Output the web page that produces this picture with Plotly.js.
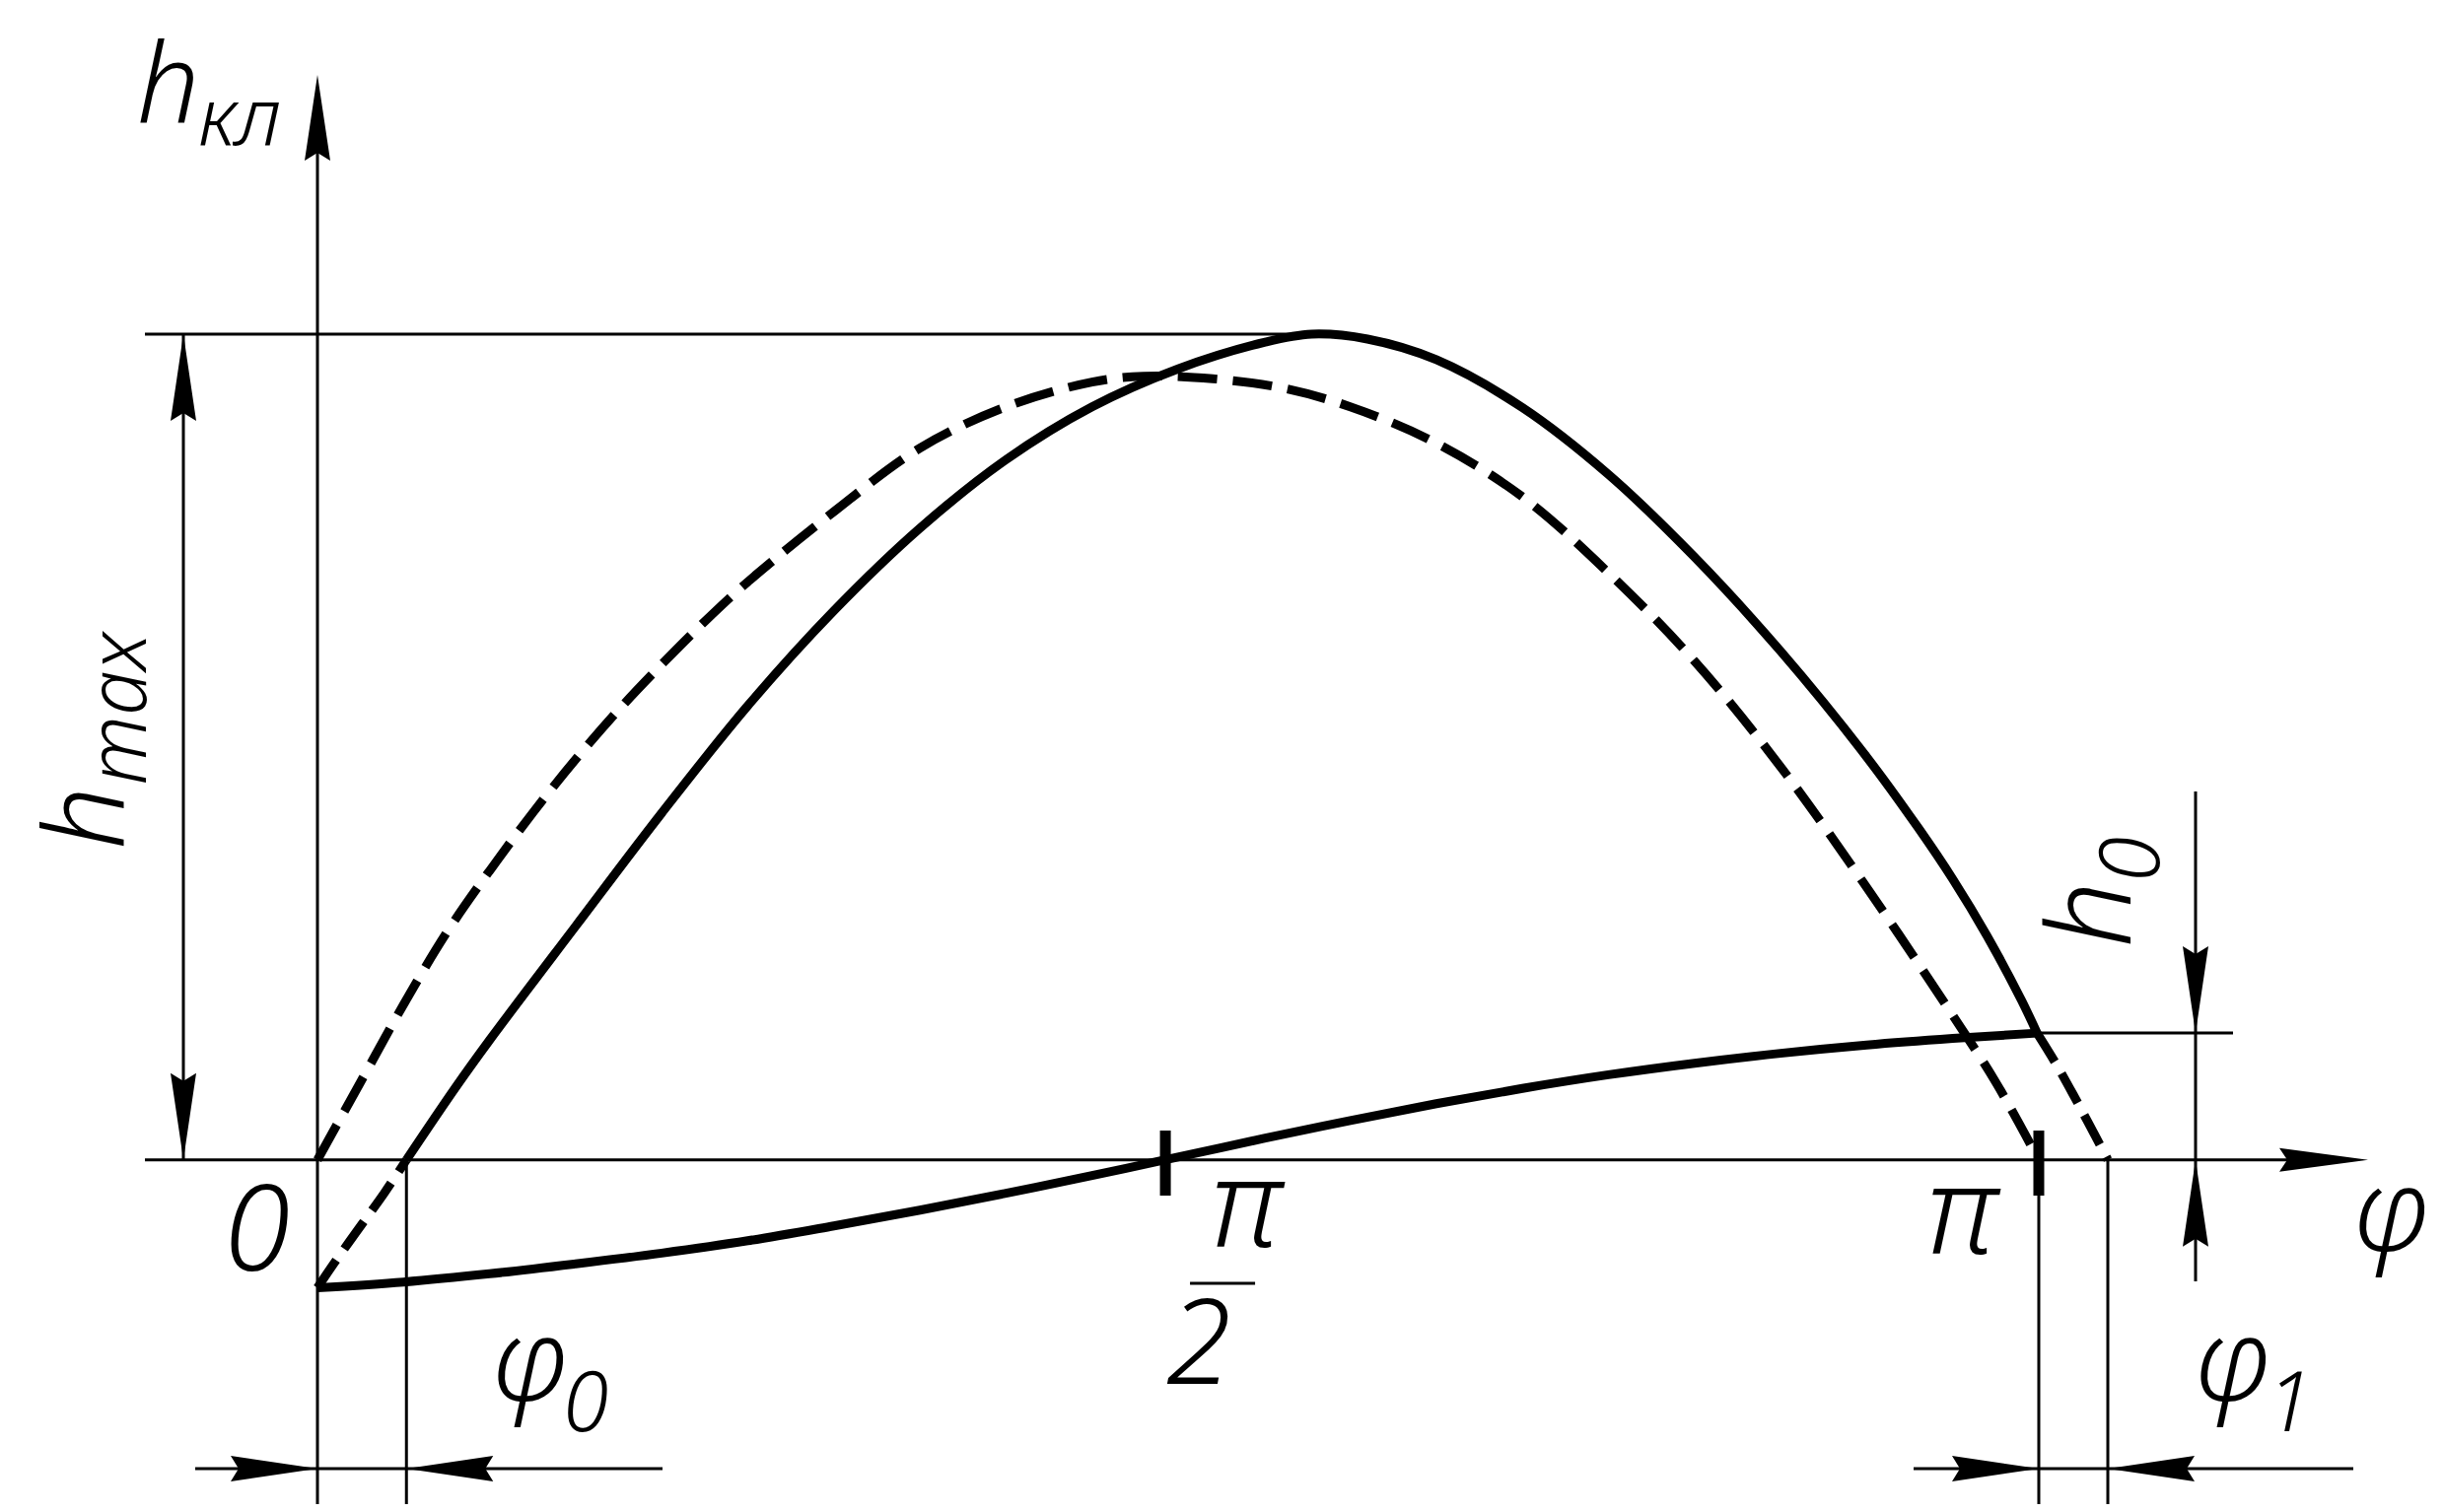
<!DOCTYPE html>
<html><head><meta charset="utf-8">
<script src="https://cdn.plot.ly/plotly-3.0.1.min.js"></script>
<style>html,body{margin:0;padding:0;background:#fff;}#chart{width:2479px;height:1534px;}</style>
</head><body><div id="chart"></div>
<script>
// ---- data: phi in units of pi, h in units of h_max ----
// dashed curve
const phiA = [0, 0.025, 0.05, 0.075, 0.10, 0.125, 0.15, 0.175, 0.20, 0.225, 0.25, 0.30, 0.35, 0.40, 0.45, 0.48, 0.52, 0.56, 0.60, 0.65, 0.70, 0.75, 0.80, 0.85, 0.90, 0.95, 0.975, 1.0];
const hA   = [0, 0.094, 0.188, 0.275, 0.350, 0.420, 0.485, 0.545, 0.600, 0.652, 0.700, 0.785, 0.862, 0.912, 0.942, 0.949, 0.946, 0.935, 0.912, 0.868, 0.803, 0.711, 0.604, 0.476, 0.330, 0.175, 0.094, 0];
// resulting lift curve (solid)
const phiB = [0.0517, 0.08, 0.10, 0.15, 0.20, 0.25, 0.30, 0.35, 0.40, 0.45, 0.50, 0.55, 0.5776, 0.61, 0.65, 0.70, 0.75, 0.80, 0.85, 0.90, 0.93, 0.95, 0.97, 0.99, 0.999];
const hB   = [0, 0.087, 0.145, 0.283, 0.420, 0.550, 0.665, 0.765, 0.848, 0.912, 0.958, 0.990, 1.0, 0.994, 0.969, 0.911, 0.830, 0.730, 0.616, 0.488, 0.402, 0.340, 0.271, 0.193, 0.1535];
// dashed continuation of the lift curve before phi0 and after pi
const phiBhead = [0, 0.0084, 0.0237, 0.0389, 0.0517];
const hBhead   = [-0.155, -0.129, -0.084, -0.040, 0];
const phiBtail = [0.999, 1.0095, 1.0200, 1.0300, 1.0401];
const hBtail   = [0.1535, 0.118, 0.079, 0.040, 0];
// lower solid curve
const phiC = [0, 0.05, 0.10, 0.15, 0.20, 0.25, 0.30, 0.35, 0.40, 0.45, 0.4926, 0.55, 0.60, 0.65, 0.70, 0.75, 0.80, 0.85, 0.90, 0.95, 0.999];
const hC   = [-0.155, -0.148, -0.138, -0.126, -0.113, -0.098, -0.080, -0.061, -0.0405, -0.019, 0, 0.026, 0.0475, 0.068, 0.0865, 0.103, 0.117, 0.129, 0.139, 0.147, 0.1535];
// axis ticks
const tickVals = [0.4926, 1.0];
const tickText = ['π/2', 'π'];
// label texts
const labelY = ['h', 'кл'];
const labelX = 'φ';
const labelHmax = ['h', 'max'];
const labelPhi0 = ['φ', '0'];
const labelPhi1 = ['φ', '1'];
const labelH0 = ['h', '0'];
const labelOrigin = '0';

// ---- page geometry ----
const W = 2479, H = 1534;
const X0 = -0.18442, X1 = 1.23540, Y0 = -0.42652, Y1 = 1.40468;
const px = x => (x - X0) / (X1 - X0) * W;
const py = y => (Y1 - y) / (Y1 - Y0) * H;
const ix = p => X0 + p / W * (X1 - X0);
const iy = p => Y1 - p / H * (Y1 - Y0);

const THIN = 3, THICK = 9;
const FONT = {family: 'Noto Sans, Lato, DejaVu Sans Condensed, sans-serif', weight: 300, style: 'italic', stretch: 'condensed', color: '#000'};

// derived quantities
const hmax = Math.max(...hB);
const phiPeak = phiB[hB.indexOf(hmax)];
const phi0 = phiB[0];
const phi1 = phiBtail[phiBtail.length - 1];
const phiPi = phiA[phiA.length - 1];
const h0 = hC[hC.length - 1];
const phiJoin = phiC[phiC.length - 1];

const G = {
  xAxisStart: 147, xAxisTip: 2402, yAxisBottom: 1526, yAxisTip: 76,
  hmaxLeft: 147, hmaxDimX: 186, extBottom: 1526, dimY: 1490,
  phi0DimLeft: 198, phi0DimRight: 672, phi1DimLeft: 1941, phi1DimRight: 2387,
  h0ExtRight: 2265, h0DimX: 2227, h0DimTop: 803, h0DimBottom: 1300,
  tickTop: 1147, tickBottom: 1213, fracBarY: 1302, fracBarHalf: 33
};

function line(x0, y0, x1, y1, w) {
  return {type: 'line', xref: 'x', yref: 'y', x0, y0, x1, y1, line: {color: '#000', width: w || THIN}};
}
function arrow(tx, ty, dx, dy, L, Wd, notch) { // pixel tip, unit direction toward tip
  L = L || 88; Wd = Wd || 26; notch = notch || 8;
  const bx = tx - dx * L, by = ty - dy * L, nx = -dy, ny = dx;
  const c1 = [bx + nx * Wd / 2, by + ny * Wd / 2], c2 = [bx - nx * Wd / 2, by - ny * Wd / 2];
  const n = [tx - dx * (L - notch), ty - dy * (L - notch)];
  const P = (a, b) => ix(a) + ',' + iy(b);
  return {type: 'path', xref: 'x', yref: 'y', fillcolor: '#000', line: {width: 0},
    path: 'M' + P(tx, ty) + ' L' + P(c1[0], c1[1]) + ' L' + P(n[0], n[1]) + ' L' + P(c2[0], c2[1]) + ' Z'};
}

const shapes = [];
// axes
shapes.push(line(ix(G.xAxisStart), 0, ix(G.xAxisTip - 60), 0));
shapes.push(arrow(G.xAxisTip, py(0), 1, 0, 90, 24, 8));
shapes.push(line(0, iy(G.yAxisBottom), 0, iy(G.yAxisTip + 60)));
shapes.push(arrow(px(0), G.yAxisTip, 0, -1, 87, 26, 8));
// h_max extension + dimension
shapes.push(line(ix(G.hmaxLeft), hmax, phiPeak, hmax));
shapes.push(line(ix(G.hmaxDimX), 0, ix(G.hmaxDimX), hmax));
shapes.push(arrow(G.hmaxDimX, py(hmax), 0, -1));
shapes.push(arrow(G.hmaxDimX, py(0), 0, 1));
// phi0 extension + dimension
shapes.push(line(phi0, 0, phi0, iy(G.extBottom)));
shapes.push(line(ix(G.phi0DimLeft), iy(G.dimY), ix(G.phi0DimRight), iy(G.dimY)));
shapes.push(arrow(px(0), G.dimY, 1, 0));
shapes.push(arrow(px(phi0), G.dimY, -1, 0));
// pi and phi1 extension + dimension
shapes.push(line(phiPi, iy(G.tickBottom), phiPi, iy(G.extBottom)));
shapes.push(line(phi1, 0, phi1, iy(G.extBottom)));
shapes.push(line(ix(G.phi1DimLeft), iy(G.dimY), ix(G.phi1DimRight), iy(G.dimY)));
shapes.push(arrow(px(phiPi), G.dimY, 1, 0));
shapes.push(arrow(px(phi1), G.dimY, -1, 0));
// h0 extension + dimension
shapes.push(line(phiJoin, h0, ix(G.h0ExtRight), h0));
shapes.push(line(ix(G.h0DimX), iy(G.h0DimTop), ix(G.h0DimX), iy(G.h0DimBottom)));
shapes.push(arrow(G.h0DimX, py(h0), 0, 1));
shapes.push(arrow(G.h0DimX, py(0), 0, -1));
// thick ticks
tickVals.forEach(v => shapes.push(line(v, iy(G.tickTop), v, iy(G.tickBottom), 11)));
// fraction bar for pi/2
const fracCx = px(tickVals[0]) + 58;
shapes.push(line(ix(fracCx - G.fracBarHalf), iy(G.fracBarY), ix(fracCx + G.fracBarHalf), iy(G.fracBarY), 3));

// ---- labels ----
const annotations = [];
function lab(text, cx, cy, size, opts) {
  opts = opts || {};
  annotations.push({text: text, x: ix(cx), y: iy(cy), xref: 'x', yref: 'y',
    showarrow: false, xanchor: opts.xa || 'center', yanchor: opts.ya || 'middle',
    textangle: opts.angle || 0, borderpad: 0,
    font: Object.assign({}, FONT, {size: size})});
}
lab(labelY[0], 170, 3, 112, {ya: 'top'});
lab(labelY[1], 200, 115, 82, {xa: 'left'});
lab(labelHmax[0], 3, 830, 112, {angle: -90, xa: 'left'});
lab(labelHmax[1], 115, 798, 82, {angle: -90, ya: 'bottom'});
lab(labelOrigin, 260, 1242, 122);
const frac = tickText[0].split('/');
lab(frac[0], px(tickVals[0]) + 84, 1216, 124);
lab(frac[1], px(tickVals[0]) + 34, 1357, 120);
lab(tickText[1], px(tickVals[1]) - 76, 1223, 124);
lab(labelX, 2426, 1224, 116);
lab(labelPhi0[0], 538, 1376, 116);
lab(labelPhi0[1], 570, 1419, 84, {xa: 'left'});
lab(labelPhi1[0], 2265, 1376, 116);
lab(labelPhi1[1], 2298, 1419, 84, {xa: 'left'});
lab(labelH0[0], 2115, 928, 118, {angle: -90});
lab(labelH0[1], 2157, 896, 84, {angle: -90, ya: 'bottom'});

// ---- traces ----
const base = {type: 'scatter', mode: 'lines', hoverinfo: 'skip', showlegend: false};
const traces = [
  Object.assign({}, base, {x: phiA, y: hA, line: {color: '#000', width: THICK, dash: '40px,16px', shape: 'spline', smoothing: 1}}),
  Object.assign({}, base, {x: phiBhead, y: hBhead, line: {color: '#000', width: THICK, dash: '34px,14px', shape: 'spline'}}),
  Object.assign({}, base, {x: phiBtail, y: hBtail, line: {color: '#000', width: THICK, dash: '34px,14px', shape: 'spline'}}),
  Object.assign({}, base, {x: phiB, y: hB, line: {color: '#000', width: THICK, shape: 'spline', smoothing: 1}}),
  Object.assign({}, base, {x: phiC, y: hC, line: {color: '#000', width: THICK, shape: 'spline', smoothing: 1}})
];

const layout = {
  width: W, height: H, autosize: false,
  margin: {l: 0, r: 0, t: 0, b: 0, pad: 0},
  paper_bgcolor: '#fff', plot_bgcolor: '#fff', showlegend: false,
  xaxis: {range: [X0, X1], visible: false, fixedrange: true},
  yaxis: {range: [Y0, Y1], visible: false, fixedrange: true},
  shapes: shapes, annotations: annotations
};
Plotly.newPlot('chart', traces, layout, {displayModeBar: false, staticPlot: true});
</script>
</body></html>
